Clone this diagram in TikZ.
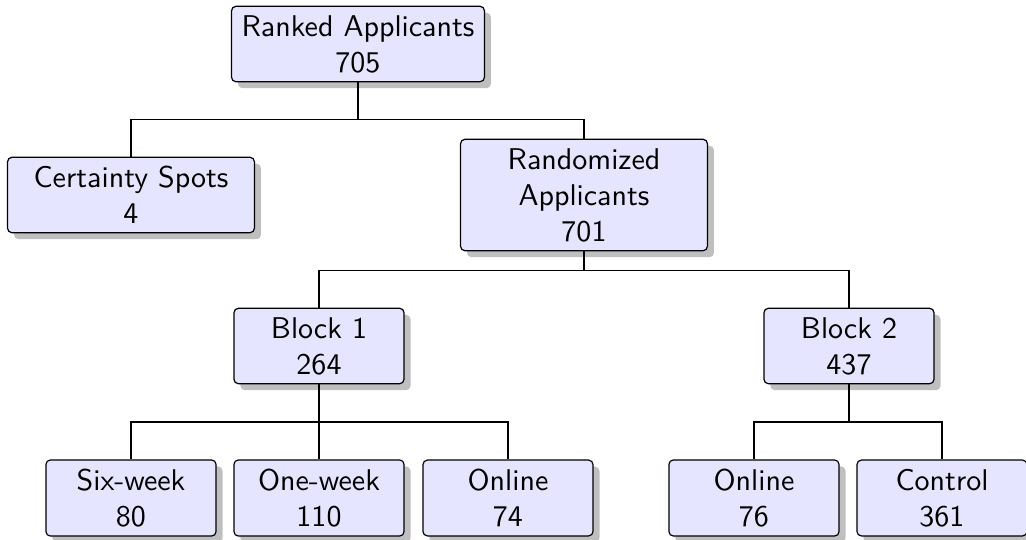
\documentclass[tikz,border=0pt]{standalone}
\usepackage{tikz}
\usetikzlibrary{calc,shadows}
\usetikzlibrary{positioning}

\tikzset{
  box/.style={draw, fill=blue!10, rounded corners=1.5pt, drop shadow, align=center,
    font=\sffamily, inner xsep=3.33pt, inner ysep=3pt},
  bigbox/.style={box, minimum width=82.3pt},
  smallbox/.style={box, minimum width=56.7pt},
  fork/.style={draw, line width=0.4pt}
}

\begin{document}
\begin{tikzpicture}[x=0.3333pt,y=0.3333pt,yscale=-1,xscale=1]
\useasboundingbox (0,0) rectangle (1026,540);

% Text Node
\node [bigbox] (ranked) at (358,44) {Ranked Applicants\\705};
% Text Node
\node [bigbox] (certain) at (131,195) {Certainty Spots\\4};
% Text Node
\node [bigbox] (random) at (584,195) {Randomized\\Applicants\\701};
% Text Node
\node [smallbox] (blockA) at (319,346) {Block 1\\264};
% Text Node
\node [smallbox] (blockB) at (849,346) {Block 2\\437};
% Text Node
\node [smallbox] (sixweek) at (131,498) {Six-week\\80};
% Text Node
\node [smallbox] (oneweek) at (319,498) {One-week\\110};
% Text Node
\node [smallbox] (onlineA) at (508,498) {Online\\74};
% Text Node
\node [smallbox] (onlineB) at (754,498) {Online\\76};
% Text Node
\node [smallbox] (control) at (942,498) {Control\\361};

%Straight Lines
\draw [fork] (ranked) |- ($(ranked)!.5!(certain)$) -| (certain);
\draw [fork] (ranked) |- ($(ranked)!.5!(random)$) -| (random);
%Straight Lines
\draw [fork] (random) |- ($(random)!.5!(blockA)$) -| (blockA);
\draw [fork] (random) |- ($(random)!.5!(blockB)$) -| (blockB);
%Straight Lines
\draw [fork] (blockA) |- ($(blockA)!.5!(sixweek)$) -| (sixweek);
\draw [fork] (blockA) -- (oneweek);
\draw [fork] (blockA) |- ($(blockA)!.5!(onlineA)$) -| (onlineA);
%Straight Lines
\draw [fork] (blockB) |- ($(blockB)!.5!(onlineB)$) -| (onlineB);
\draw [fork] (blockB) |- ($(blockB)!.5!(control)$) -| (control);

\end{tikzpicture}
\end{document}
